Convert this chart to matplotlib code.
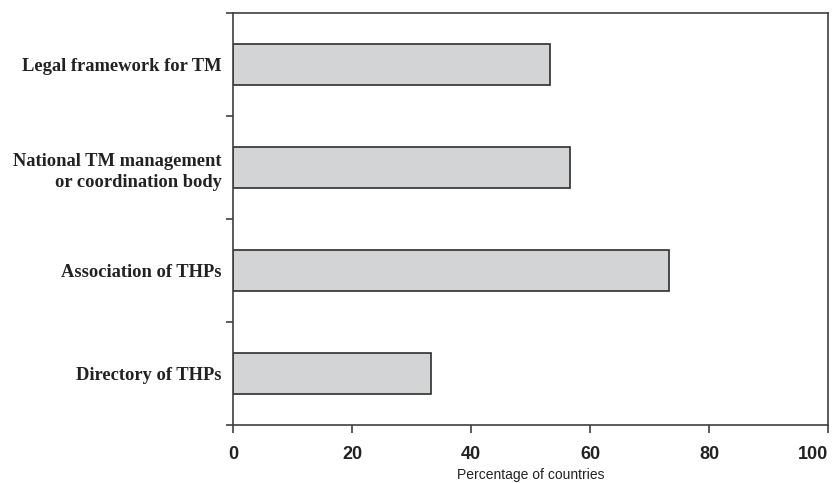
import matplotlib
matplotlib.use("Agg")
import matplotlib.pyplot as plt
import numpy as np

categories = ["Directory of THPs", "Association of THPs",
              "National TM management\nor coordination body", "Legal framework for TM"]
values = [33.3, 73.3, 56.7, 53.3]
xticks = [0, 20, 40, 60, 80, 100]

fig = plt.figure(figsize=(8.33, 4.83), dpi=100)
ax = fig.add_axes([233/833, 58/483, (828-233)/833, (425-13)/483])

pos = np.arange(len(categories))
ax.barh(pos, values, height=0.4, color="#d3d4d6", edgecolor="#2e2e2e", linewidth=1.2)

ax.set_xlim(0, 100)
ax.set_ylim(-0.5, len(categories) - 0.5)

for s in ax.spines.values():
    s.set_color("#404040")
    s.set_linewidth(1.2)

ax.set_yticks(np.arange(-0.5, len(categories), 1.0))
ax.set_yticklabels([])
ax.tick_params(axis="y", which="major", direction="out", length=5, width=1.2, color="#404040")
ax.set_yticks(pos, minor=True)
ax.set_yticklabels(categories, minor=True, fontfamily="Liberation Serif",
                   fontweight="bold", fontsize=13.3, color="#222222",
                   linespacing=1.35)
ax.tick_params(axis="y", which="minor", length=0, pad=8)

ax.set_xticks(xticks)
ax.set_xticklabels([str(t) for t in xticks], fontfamily="Liberation Sans",
                   fontweight="bold", fontsize=13, color="#222222")
ax.tick_params(axis="x", direction="out", length=6, width=1.2, color="#404040", pad=9)
ax.get_xticklabels()[-1].set_horizontalalignment("right")

ax.set_xlabel("Percentage of countries", fontfamily="Liberation Sans",
              fontsize=10, color="#222222", labelpad=4)

fig.savefig("out.png", dpi=100)
